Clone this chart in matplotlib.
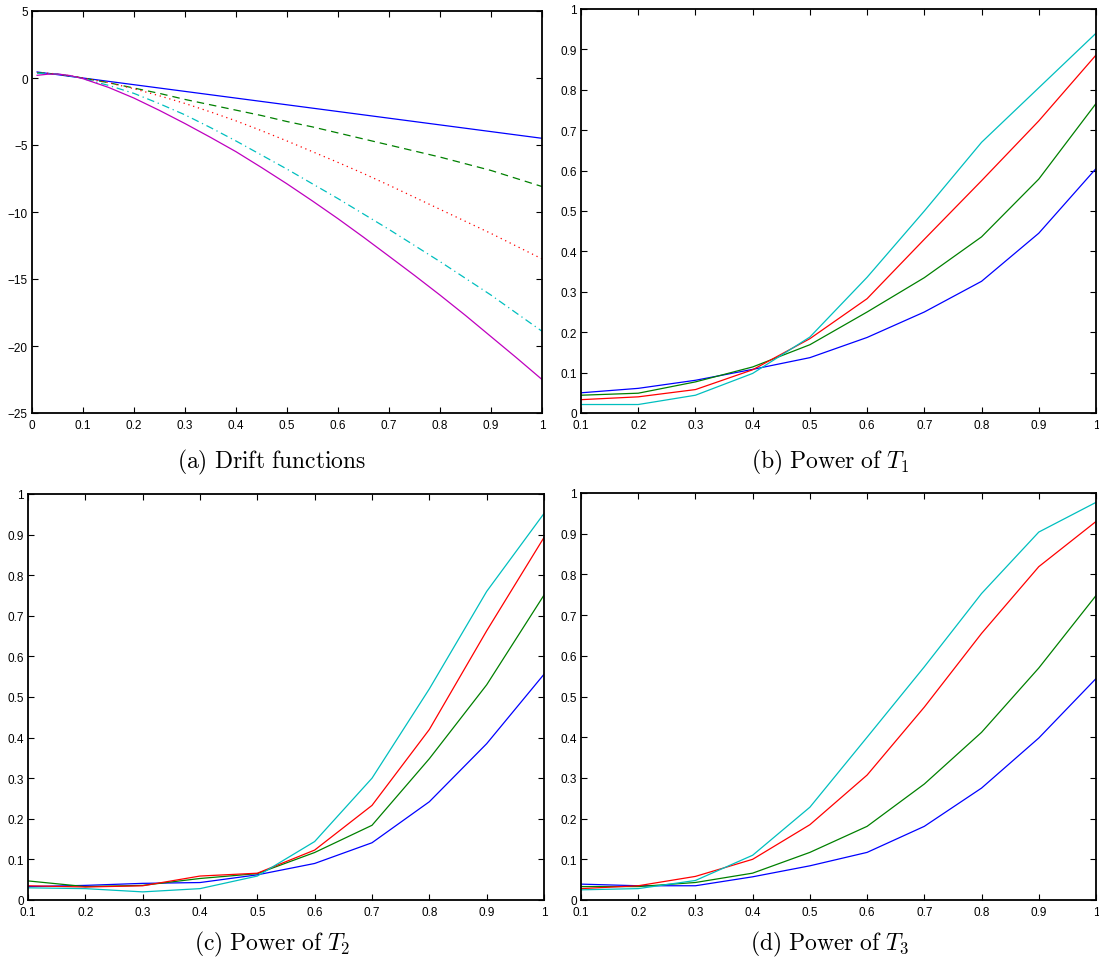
import matplotlib
matplotlib.use('Agg')
import matplotlib.pyplot as plt

plt.rcParams['font.family'] = ['Liberation Sans', 'DejaVu Sans']
plt.rcParams['mathtext.fontset'] = 'cm'

drift_x = [0.01, 0.03, 0.05, 0.075, 0.1, 0.15, 0.2, 0.25, 0.3, 0.35, 0.4, 0.45,
           0.5, 0.55, 0.6, 0.65, 0.7, 0.75, 0.8, 0.85, 0.9, 0.95, 1.0]
drift_blue = [0.45, 0.35, 0.25, 0.12, 0.0, -0.25, -0.5, -0.75, -1.0, -1.25, -1.5, -1.75,
              -2.0, -2.25, -2.5, -2.75, -3.0, -3.25, -3.5, -3.75, -4.0, -4.25, -4.5]
drift_green = [0.4, 0.35, 0.28, 0.15, 0.0, -0.35, -0.75, -1.15, -1.6, -2.0, -2.4, -2.8,
               -3.25, -3.65, -4.1, -4.55, -5.0, -5.45, -5.9, -6.4, -6.9, -7.5, -8.1]
drift_red = [0.38, 0.36, 0.3, 0.16, 0.0, -0.35, -0.8, -1.33, -1.9, -2.53, -3.2, -3.93,
             -4.7, -5.5, -6.3, -7.13, -8.0, -8.9, -9.8, -10.7, -11.6, -12.55, -13.5]
drift_cyan = [0.35, 0.35, 0.3, 0.15, -0.05, -0.55, -1.15, -1.92, -2.75, -3.7, -4.7, -5.75,
              -6.8, -7.9, -9.0, -10.15, -11.3, -12.5, -13.7, -14.95, -16.2, -17.55, -18.9]
drift_magenta = [0.2, 0.28, 0.3, 0.18, -0.05, -0.7, -1.5, -2.42, -3.4, -4.43, -5.5, -6.68,
                 -7.9, -9.18, -10.5, -11.88, -13.3, -14.73, -16.2, -17.72, -19.3, -20.88, -22.5]

# power curves
alpha = [0.1, 0.2, 0.3, 0.4, 0.5, 0.6, 0.7, 0.8, 0.9, 1.0]

t1_blue = [0.050, 0.061, 0.081, 0.108, 0.137, 0.187, 0.250, 0.326, 0.445, 0.605]
t1_green = [0.044, 0.049, 0.077, 0.114, 0.169, 0.250, 0.335, 0.436, 0.579, 0.766]
t1_red = [0.033, 0.040, 0.058, 0.107, 0.184, 0.283, 0.430, 0.575, 0.723, 0.886]
t1_cyan = [0.021, 0.021, 0.044, 0.098, 0.188, 0.336, 0.500, 0.670, 0.805, 0.940]

t2_blue = [0.033, 0.036, 0.041, 0.043, 0.062, 0.090, 0.141, 0.242, 0.385, 0.556]
t2_green = [0.047, 0.033, 0.036, 0.053, 0.065, 0.117, 0.184, 0.348, 0.530, 0.751]
t2_red = [0.035, 0.032, 0.035, 0.059, 0.066, 0.123, 0.233, 0.420, 0.663, 0.893]
t2_cyan = [0.030, 0.028, 0.020, 0.028, 0.059, 0.144, 0.300, 0.520, 0.760, 0.952]

t3_blue = [0.039, 0.035, 0.035, 0.057, 0.084, 0.117, 0.181, 0.275, 0.398, 0.544]
t3_green = [0.033, 0.033, 0.043, 0.066, 0.117, 0.181, 0.285, 0.412, 0.570, 0.748]
t3_red = [0.028, 0.035, 0.058, 0.100, 0.185, 0.307, 0.474, 0.655, 0.819, 0.930]
t3_cyan = [0.025, 0.028, 0.048, 0.110, 0.228, 0.400, 0.573, 0.753, 0.904, 0.977]

BLUE = (0, 0, 1)
GREEN = (0, 0.5, 0)
RED = (1, 0, 0)
CYAN = (0, 0.75, 0.75)
MAGENTA = (0.75, 0, 0.75)

W, H = 1099, 970
fig = plt.figure(figsize=(W / 100, H / 100), dpi=100)


def box(x0, y0, x1, y1):
    # pixel box -> figure fraction rect
    return [x0 / W, 1 - y1 / H, (x1 - x0) / W, (y1 - y0) / H]


def style(ax):
    ax.tick_params(direction='in', top=True, right=True, length=4,
                   width=0.8, labelsize=8.5)
    ax.tick_params(axis='x', pad=4)
    ax.tick_params(axis='y', pad=3)
    for s in ax.spines.values():
        s.set_linewidth(1.3)


def fmt(v):
    s = ('%g' % round(v, 2))
    return s.replace('-', '\u2212')


# (a)
ax = fig.add_axes(box(32, 12, 542, 414))
lw = 0.9
ax.plot(drift_x, drift_blue, color=BLUE, lw=lw)
ax.plot(drift_x, drift_green, color=GREEN, lw=lw, ls=(0, (6, 4)))
ax.plot(drift_x, drift_red, color=RED, lw=lw, ls=(0, (1, 3)))
ax.plot(drift_x, drift_cyan, color=CYAN, lw=lw, ls=(0, (6, 3, 1, 3)))
ax.plot(drift_x, drift_magenta, color=MAGENTA, lw=lw)
ax.set_xlim(0, 1)
ax.set_ylim(-25, 5)
xt = [i / 10 for i in range(11)]
ax.set_xticks(xt)
ax.set_xticklabels([fmt(v) for v in xt])
yt = list(range(-25, 6, 5))
ax.set_yticks(yt)
ax.set_yticklabels([fmt(v) for v in yt])
style(ax)

power_sets = [
    (box(581, 10, 1096, 414), [t1_blue, t1_green, t1_red, t1_cyan]),
    (box(28, 495, 544, 901), [t2_blue, t2_green, t2_red, t2_cyan]),
    (box(581, 494, 1096, 901), [t3_blue, t3_green, t3_red, t3_cyan]),
]
for rect, series in power_sets:
    ax = fig.add_axes(rect)
    for ys, c in zip(series, [BLUE, GREEN, RED, CYAN]):
        ax.plot(alpha, ys, color=c, lw=0.9)
    ax.set_xlim(0.1, 1)
    ax.set_ylim(0, 1)
    ax.set_xticks(alpha)
    ax.set_xticklabels([fmt(v) for v in alpha])
    yt = [i / 10 for i in range(11)]
    ax.set_yticks(yt)
    ax.set_yticklabels([fmt(v) for v in yt])
    style(ax)

captions = [
    (272, 462, r'$\mathrm{(a)\ Drift\ functions}$'),
    (830, 462, r'$\mathrm{(b)\ Power\ of\ }T_1$'),
    (272, 944, r'$\mathrm{(c)\ Power\ of\ }T_2$'),
    (830, 944, r'$\mathrm{(d)\ Power\ of\ }T_3$'),
]
for x, y, t in captions:
    fig.text(x / W, 1 - y / H, t, ha='center', va='center', fontsize=17)

fig.savefig('out.png', dpi=100)
